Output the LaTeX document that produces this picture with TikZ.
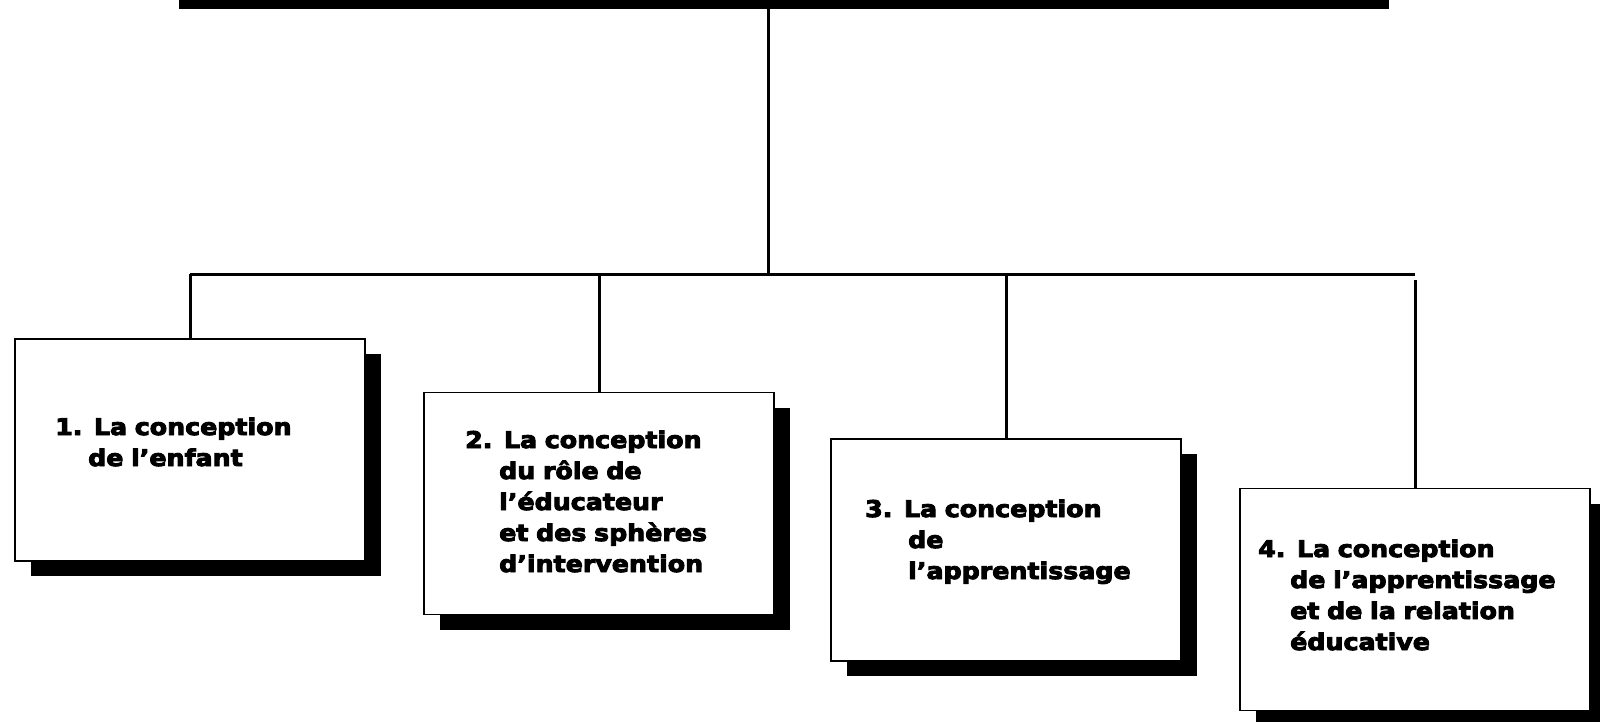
\documentclass[tikz,border=0pt]{standalone}
\usepackage{fontspec}
\setmainfont{DejaVu Sans Bold}[FakeStretch=1.1,FakeBold=4]
\usetikzlibrary{shadows,calc}
\tikzset{
  carte/.style={draw, line width=1.3pt, fill=white, minimum width=350pt, minimum height=222pt, inner sep=0pt,
    drop shadow={shadow xshift=16pt, shadow yshift=-15pt, fill=black, opacity=1}},
  texte/.style={anchor=base west, inner sep=0pt, text width=340pt, align=left, font=\fontsize{23}{31}\selectfont},
  lien/.style={line width=3pt}
}
\newcommand{\retrait}[1]{\hspace*{#1pt}}
\begin{document}
\begin{tikzpicture}[x=1pt,y=-1pt]
\useasboundingbox (0,0) rectangle (1600,722);
% bande du cadre du haut, coupee par le bord
\node[fill=black, minimum width=1210pt, minimum height=9pt, inner sep=0pt] (titre) at (784,4.5) {};
\coordinate (noeud) at (768,274);
\node[carte] (b1) at (190,450) {};
\node[carte] (b2) at (599,503.5) {};
\node[carte] (b3) at (1006,550) {};
\node[carte] (b4) at (1415,599.5) {};
\node[texte] (t1) at (55,435) {1. La conception\\\retrait{33}de l’enfant};
\node[texte] (t2) at (465,448) {2. La conception\\\retrait{34}du rôle de\\\retrait{34}l’éducateur\\\retrait{34}et des sphères\\\retrait{34}d’intervention};
\node[texte] (t3) at (865,517) {3. La conception\\\retrait{43}de\\\retrait{43}l’apprentissage};
\node[texte] (t4) at (1258,557) {4. La conception\\\retrait{32}de l’apprentissage\\\retrait{32}et de la relation\\\retrait{32}éducative};
\draw[lien] (titre.south -| noeud) -- (noeud);
\draw[lien] (b1.north |- noeud) -- (b4.north |- noeud);
\foreach \b in {b1,b2,b3} { \draw[lien] (\b.north |- noeud) -- (\b.north); }
\draw[lien] ($(b4.north |- noeud)+(0,6)$) -- (b4.north);
\end{tikzpicture}
\end{document}
